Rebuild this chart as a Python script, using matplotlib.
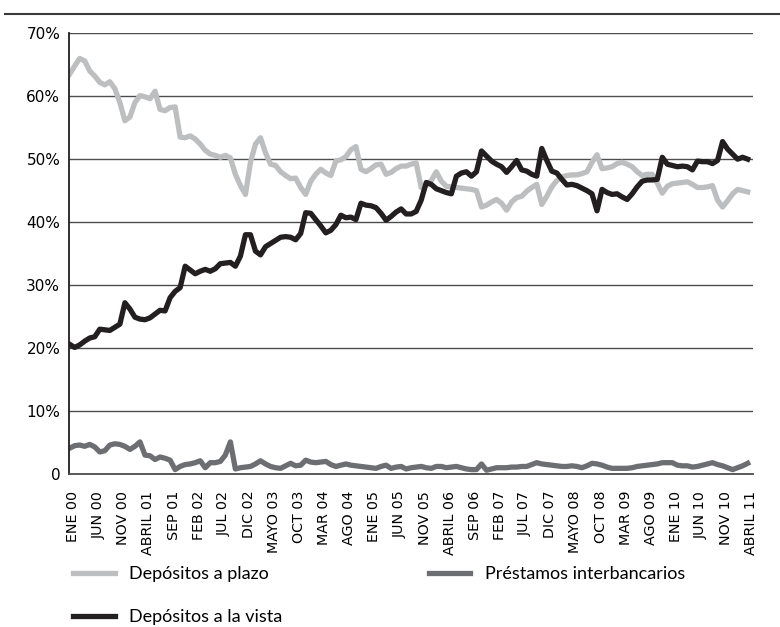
import numpy as np
import matplotlib
matplotlib.use("Agg")
import matplotlib.pyplot as plt
from matplotlib.lines import Line2D
from matplotlib.transforms import ScaledTranslation

# etiquetas cada 5 meses, ene 2000 - abril 2011 (136 meses)
tick_labels = ['ENE 00', 'JUN 00', 'NOV 00', 'ABRIL 01', 'SEP 01', 'FEB 02', 'JUL 02',
               'DIC 02', 'MAYO 03', 'OCT 03', 'MAR 04', 'AGO 04', 'ENE 05', 'JUN 05',
               'NOV 05', 'ABRIL 06', 'SEP 06', 'FEB 07', 'JUL 07', 'DIC 07', 'MAYO 08',
               'OCT 08', 'MAR 09', 'AGO 09', 'ENE 10', 'JUN 10', 'NOV 10', 'ABRIL 11']

plazo = [63.5, 64.8, 66.0, 65.6, 64.0, 63.2, 62.2, 61.8, 62.3, 61.2,
         59.0, 56.1, 56.7, 59.0, 60.1, 59.9, 59.6, 60.8, 57.9, 57.7,
         58.2, 58.3, 53.5, 53.4, 53.7, 53.2, 52.4, 51.4, 50.8, 50.6,
         50.3, 50.6, 50.2, 47.6, 45.8, 44.4, 49.5, 52.4, 53.4, 51.0,
         49.2, 49.0, 48.0, 47.4, 46.9, 47.0, 45.5, 44.4, 46.5, 47.6,
         48.4, 47.8, 47.4, 49.7, 49.9, 50.4, 51.5, 52.0, 48.4, 48.0,
         48.5, 49.1, 49.2, 47.6, 47.9, 48.5, 48.9, 48.9, 49.2, 49.4,
         45.5, 45.8, 46.6, 48.0, 46.5, 45.7, 45.6, 45.5, 45.4, 45.3,
         45.2, 45.0, 42.4, 42.7, 43.2, 43.6, 43.0, 41.9, 43.2, 43.9,
         44.1, 44.9, 45.5, 46.0, 42.8, 44.1, 45.6, 46.6, 47.2, 47.4,
         47.5, 47.5, 47.7, 48.0, 49.5, 50.7, 48.5, 48.6, 48.8, 49.3,
         49.5, 49.2, 48.8, 48.0, 47.4, 47.6, 47.6, 46.2, 44.6, 45.7,
         46.1, 46.2, 46.3, 46.4, 46.0, 45.5, 45.5, 45.6, 45.8, 43.5,
         42.4, 43.4, 44.5, 45.2, 45.0, 44.8]

vista = [20.6, 20.1, 20.5, 21.1, 21.6, 21.8, 23.0, 22.9, 22.8, 23.3,
         23.8, 27.2, 26.2, 24.9, 24.6, 24.5, 24.8, 25.4, 26.0, 25.9,
         28.0, 29.0, 29.6, 33.0, 32.4, 31.8, 32.2, 32.5, 32.2, 32.6,
         33.4, 33.5, 33.6, 33.0, 34.6, 38.0, 38.0, 35.4, 34.8, 36.1,
         36.6, 37.1, 37.6, 37.7, 37.6, 37.2, 38.2, 41.5, 41.4, 40.4,
         39.4, 38.3, 38.7, 39.6, 41.1, 40.7, 40.8, 40.4, 43.0, 42.7,
         42.6, 42.3, 41.4, 40.3, 40.9, 41.6, 42.1, 41.3, 41.3, 41.7,
         43.5, 46.3, 46.0, 45.3, 45.0, 44.7, 44.5, 47.3, 47.8, 48.0,
         47.3, 48.0, 51.3, 50.5, 49.7, 49.2, 48.8, 47.9, 48.8, 49.8,
         48.3, 48.1, 47.6, 47.3, 51.7, 49.8, 48.1, 47.8, 46.8, 45.9,
         46.0, 45.8, 45.4, 45.0, 44.5, 41.8, 45.2, 44.7, 44.4, 44.5,
         44.0, 43.6, 44.5, 45.6, 46.5, 46.7, 46.7, 46.8, 50.3, 49.2,
         49.0, 48.8, 48.9, 48.8, 48.3, 49.7, 49.6, 49.6, 49.3, 49.8,
         52.8, 51.6, 50.8, 50.0, 50.3, 50.0]

prestamos = [4.1, 4.5, 4.6, 4.4, 4.7, 4.3, 3.5, 3.7, 4.6, 4.8,
             4.7, 4.4, 3.9, 4.4, 5.1, 3.0, 2.9, 2.3, 2.7, 2.5,
             2.2, 0.7, 1.2, 1.5, 1.6, 1.8, 2.1, 1.0, 1.8, 1.8,
             2.0, 3.0, 5.1, 0.8, 1.0, 1.1, 1.2, 1.6, 2.1, 1.6,
             1.2, 1.0, 0.9, 1.3, 1.7, 1.3, 1.4, 2.2, 1.9, 1.8,
             1.9, 2.0, 1.5, 1.2, 1.4, 1.6, 1.4, 1.3, 1.2, 1.1,
             1.0, 0.9, 1.2, 1.4, 0.9, 1.1, 1.2, 0.8, 1.0, 1.1,
             1.2, 1.0, 0.9, 1.2, 1.2, 1.0, 1.1, 1.2, 1.0, 0.8,
             0.7, 0.7, 1.6, 0.6, 0.8, 1.0, 1.0, 1.0, 1.1, 1.1,
             1.2, 1.2, 1.5, 1.8, 1.6, 1.5, 1.4, 1.3, 1.2, 1.2,
             1.3, 1.2, 1.0, 1.3, 1.7, 1.6, 1.4, 1.1, 0.9, 0.9,
             0.9, 0.9, 1.0, 1.2, 1.3, 1.4, 1.5, 1.6, 1.8, 1.8,
             1.8, 1.4, 1.3, 1.3, 1.1, 1.2, 1.4, 1.6, 1.8, 1.5,
             1.3, 1.0, 0.7, 1.0, 1.3, 1.7]

meses = np.arange(len(plazo))

fig = plt.figure(figsize=(7.8, 6.27), dpi=100)
ax = fig.add_axes([0.088, 0.244, 0.877, 0.703])

ax.plot(meses, plazo, color='#bcbec0', lw=3.8, label='Depósitos a plazo', solid_joinstyle='round')
ax.plot(meses, vista, color='#231f20', lw=3.8, label='Depósitos a la vista', solid_joinstyle='round')
ax.plot(meses, prestamos, color='#6d6e71', lw=3.8, label='Préstamos interbancarios', solid_joinstyle='round')

ax.set_ylim(0, 70)
ax.set_xlim(-0.2, 136)
ax.set_yticks(range(0, 71, 10))
ax.set_yticklabels(['0'] + ['%d%%' % v for v in range(10, 71, 10)], fontsize=11, family='DejaVu Sans')
ax.yaxis.grid(True, color='#4d4d4f', lw=1)
ax.set_axisbelow(True)
ax.tick_params(axis='y', length=0, pad=6)

ax.set_xticks(meses[::5])
ax.set_xticklabels(tick_labels, rotation=90, fontsize=10.3, family='DejaVu Sans', va='top')
ax.tick_params(axis='x', length=0, pad=12)
off = ScaledTranslation(3.5 / 100, 0, fig.dpi_scale_trans)
for lab in ax.get_xticklabels():
    lab.set_transform(lab.get_transform() + off)

for s in ['top', 'right']:
    ax.spines[s].set_visible(False)
ax.spines['left'].set_color('#231f20')
ax.spines['left'].set_linewidth(1.3)
ax.spines['bottom'].set_color('#4d4d4f')
ax.spines['bottom'].set_linewidth(1.3)

# linea superior
fig.add_artist(Line2D([0.006, 1.0], [0.978, 0.978], color='#3a3a3c', lw=1.5))

ax.legend(loc='upper left', bbox_to_anchor=(0.094, 0.097), bbox_transform=fig.transFigure,
          ncol=2, frameon=False, prop={'family': 'Lato', 'size': 13},
          handlelength=2.3, handletextpad=0.8, columnspacing=8.1, labelspacing=1.5,
          borderaxespad=0, borderpad=0)

fig.savefig('out.png', dpi=100)
